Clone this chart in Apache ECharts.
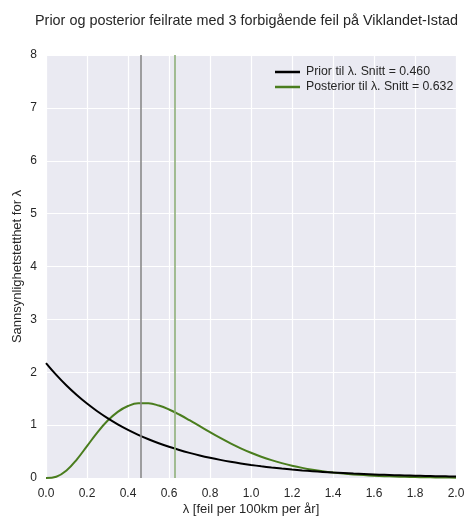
<!DOCTYPE html>
<html>
<head>
<meta charset="utf-8">
<script src="https://cdn.jsdelivr.net/npm/echarts@6/dist/echarts.min.js"></script>
<style>
  html, body { margin: 0; padding: 0; background: #ffffff; }
  #chart { width: 469px; height: 518px; }
</style>
</head>
<body>
<div id="chart"></div>
<script>
// Failure rate grid, λ in failures per 100 km per year
const lambdaValues = [0.00, 0.05, 0.10, 0.15, 0.20, 0.25, 0.30, 0.35, 0.40, 0.45,
  0.50, 0.55, 0.60, 0.65, 0.70, 0.75, 0.80, 0.85, 0.90, 0.95,
  1.00, 1.05, 1.10, 1.15, 1.20, 1.25, 1.30, 1.35, 1.40, 1.45,
  1.50, 1.55, 1.60, 1.65, 1.70, 1.75, 1.80, 1.85, 1.90, 1.95, 2.00];

// Prior density for λ
const priorDensity = [2.1739, 1.9500, 1.7491, 1.5690, 1.4074, 1.2624, 1.1324, 1.0158, 0.9111, 0.8173,
  0.7331, 0.6576, 0.5899, 0.5291, 0.4746, 0.4257, 0.3819, 0.3426, 0.3073, 0.2756,
  0.2472, 0.2218, 0.1989, 0.1784, 0.1601, 0.1436, 0.1288, 0.1155, 0.1036, 0.0930,
  0.0834, 0.0748, 0.0671, 0.0602, 0.0540, 0.0484, 0.0434, 0.0390, 0.0350, 0.0314, 0.0281];

// Posterior density for λ after 3 transient faults
const posteriorDensity = [0.0000, 0.0244, 0.1420, 0.3493, 0.6034, 0.8588, 1.0815, 1.2516, 1.3615, 1.4128,
  1.4123, 1.3699, 1.2961, 1.2010, 1.0931, 0.9798, 0.8666, 0.7575, 0.6553, 0.5616,
  0.4774, 0.4028, 0.3375, 0.2810, 0.2327, 0.1917, 0.1571, 0.1282, 0.1042, 0.0844,
  0.0681, 0.0547, 0.0439, 0.0351, 0.0280, 0.0222, 0.0176, 0.0139, 0.0110, 0.0087, 0.0068];

const priorMean = 0.460;
const posteriorMean = 0.632;

const xTicks = [0.0, 0.2, 0.4, 0.6, 0.8, 1.0, 1.2, 1.4, 1.6, 1.8, 2.0];
const yTicks = [0, 1, 2, 3, 4, 5, 6, 7, 8];

const FONT = '"Liberation Sans", Arial, sans-serif';
const TXT = '#262626';

const pairs = (ys) => lambdaValues.map((x, i) => [x, ys[i]]);
const priorName = 'Prior til λ. Snitt = ' + priorMean.toFixed(3);
const posteriorName = 'Posterior til λ. Snitt = ' + posteriorMean.toFixed(3);

const chart = echarts.init(document.getElementById('chart'), null, { renderer: 'canvas' });

chart.setOption({
  animation: false,
  backgroundColor: '#ffffff',
  title: {
    text: 'Prior og posterior feilrate med 3 forbigående feil på Viklandet-Istad',
    left: 30,
    top: 9,
    textStyle: { fontFamily: FONT, fontSize: 14.4, fontWeight: 'normal', color: TXT }
  },
  grid: {
    left: 46, right: 13, top: 55, bottom: 40,
    outerBoundsMode: 'none',
    containLabel: false,
    backgroundColor: '#EAEAF2', show: true, borderWidth: 0
  },
  legend: {
    top: 61,
    left: 270,
    orient: 'vertical',
    itemGap: 3,
    itemWidth: 25,
    itemHeight: 2.5,
    icon: 'rect',
    textStyle: { fontFamily: FONT, fontSize: 12.3, color: TXT, padding: [0, 0, 0, 1] },
    data: [priorName, posteriorName]
  },
  xAxis: {
    type: 'value',
    min: xTicks[0],
    max: xTicks[xTicks.length - 1],
    interval: 0.2,
    name: 'λ [feil per 100km per år]',
    nameLocation: 'middle',
    nameGap: 25,
    nameMoveOverlap: false,
    nameTextStyle: { fontFamily: FONT, fontSize: 13, color: TXT },
    axisLine: { show: false },
    axisTick: { show: false },
    axisLabel: { fontFamily: FONT, fontSize: 12, color: TXT, margin: 10, formatter: (v) => v.toFixed(1) },
    splitLine: { show: true, lineStyle: { color: '#ffffff', width: 1.2 } }
  },
  yAxis: {
    type: 'value',
    min: yTicks[0],
    max: yTicks[yTicks.length - 1],
    interval: 1,
    name: 'Sannsynlighetstetthet for λ',
    nameLocation: 'middle',
    nameGap: 22,
    nameMoveOverlap: false,
    nameTextStyle: { fontFamily: FONT, fontSize: 13, color: TXT },
    axisLine: { show: false },
    axisTick: { show: false },
    axisLabel: { fontFamily: FONT, fontSize: 12, color: TXT, margin: 9 },
    splitLine: { show: true, lineStyle: { color: '#ffffff', width: 1.2 } }
  },
  series: [
    {
      name: priorName,
      type: 'line',
      data: pairs(priorDensity),
      smooth: 0.4,
      showSymbol: false,
      itemStyle: { color: '#000000' },
      lineStyle: { color: '#000000', width: 2 },
      z: 3,
      markLine: {
        silent: true,
        symbol: 'none',
        label: { show: false },
        lineStyle: { color: '#8a8a8a', width: 1.6, type: 'solid' },
        data: [{ xAxis: priorMean }]
      }
    },
    {
      name: posteriorName,
      type: 'line',
      data: pairs(posteriorDensity),
      smooth: 0.4,
      showSymbol: false,
      itemStyle: { color: '#4a7d1e' },
      lineStyle: { color: '#4a7d1e', width: 2 },
      z: 2,
      markLine: {
        silent: true,
        symbol: 'none',
        label: { show: false },
        lineStyle: { color: '#8fb07a', width: 1.6, type: 'solid' },
        data: [{ xAxis: posteriorMean }]
      }
    }
  ]
});
</script>
</body>
</html>
